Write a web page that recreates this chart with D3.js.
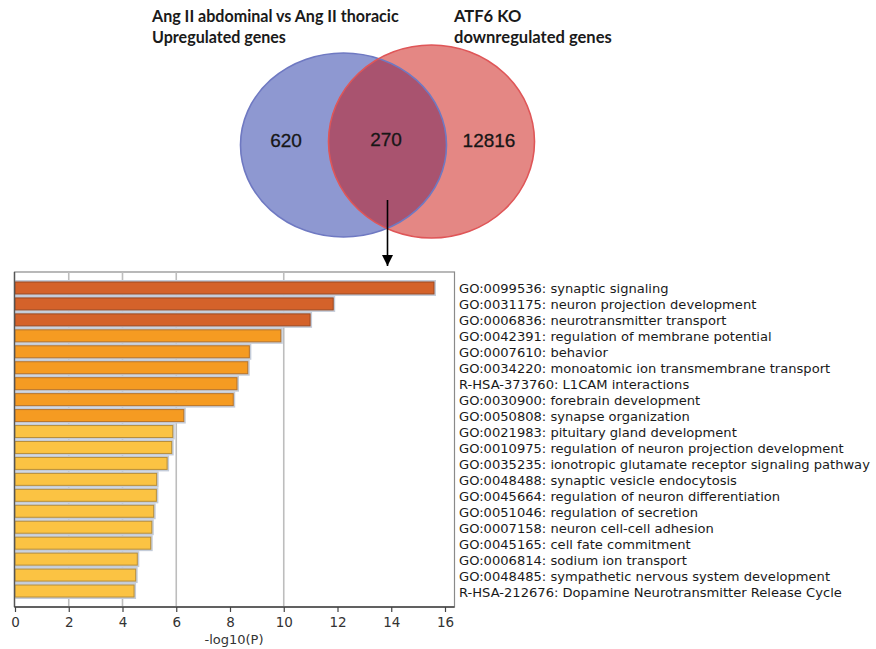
<!DOCTYPE html>
<html>
<head>
<meta charset="utf-8">
<script src="https://cdn.jsdelivr.net/npm/d3@7"></script>
<style>
  html, body { margin: 0; padding: 0; background: #fff; }
  svg { display: block; }
</style>
</head>
<body>
<svg id="chart" width="876" height="649"></svg>
<script>
// Venn set sizes
const vennLeftOnly = 620;
const vennShared = 270;
const vennRightOnly = 12816;
const vennLeftTitle = ["Ang II abdominal vs Ang II thoracic", "Upregulated genes"];
const vennRightTitle = ["ATF6 KO", "downregulated genes"];

// Enrichment terms for the shared genes
const terms = [
  "GO:0099536: synaptic signaling",
  "GO:0031175: neuron projection development",
  "GO:0006836: neurotransmitter transport",
  "GO:0042391: regulation of membrane potential",
  "GO:0007610: behavior",
  "GO:0034220: monoatomic ion transmembrane transport",
  "R-HSA-373760: L1CAM interactions",
  "GO:0030900: forebrain development",
  "GO:0050808: synapse organization",
  "GO:0021983: pituitary gland development",
  "GO:0010975: regulation of neuron projection development",
  "GO:0035235: ionotropic glutamate receptor signaling pathway",
  "GO:0048488: synaptic vesicle endocytosis",
  "GO:0045664: regulation of neuron differentiation",
  "GO:0051046: regulation of secretion",
  "GO:0007158: neuron cell-cell adhesion",
  "GO:0045165: cell fate commitment",
  "GO:0006814: sodium ion transport",
  "GO:0048485: sympathetic nervous system development",
  "R-HSA-212676: Dopamine Neurotransmitter Release Cycle"
];
const logP = [15.59, 11.84, 10.98, 9.89, 8.72, 8.66, 8.26, 8.12, 6.28, 5.87,
              5.83, 5.66, 5.27, 5.26, 5.16, 5.09, 5.05, 4.55, 4.49, 4.43];
const xTicks = [0, 2, 4, 6, 8, 10, 12, 14, 16];
const gridTicks = [2, 4, 6, 10];
const xLabel = "-log10(P)";

const svg = d3.select("#chart");

// fit a group of text lines so that one reference line spans a given width
function fitWidth(sel, baseSize, refNode, width) {
  const w = refNode.getComputedTextLength();
  if (w > 0) sel.attr("font-size", baseSize * width / w);
}

// ---------- Venn diagram ----------
const venn = svg.append("g");
const blue = { cx: 343.5, cy: 145, rx: 103, ry: 92 };
const red = { cx: 431.5, cy: 141.5, rx: 103, ry: 96.5 };

const defs = svg.append("defs");
defs.append("clipPath").attr("id", "clipBlue")
  .append("ellipse")
  .attr("cx", blue.cx).attr("cy", blue.cy).attr("rx", blue.rx).attr("ry", blue.ry);

venn.append("ellipse")
  .attr("cx", blue.cx).attr("cy", blue.cy).attr("rx", blue.rx).attr("ry", blue.ry)
  .attr("fill", "#8e98d1");
venn.append("ellipse")
  .attr("cx", red.cx).attr("cy", red.cy).attr("rx", red.rx).attr("ry", red.ry)
  .attr("fill", "#e48784");
venn.append("ellipse")
  .attr("clip-path", "url(#clipBlue)")
  .attr("cx", red.cx).attr("cy", red.cy).attr("rx", red.rx).attr("ry", red.ry)
  .attr("fill", "#a9536f");
venn.append("ellipse")
  .attr("cx", blue.cx).attr("cy", blue.cy).attr("rx", blue.rx).attr("ry", blue.ry)
  .attr("fill", "none").attr("stroke", "#6f79c2").attr("stroke-width", 1.6);
venn.append("ellipse")
  .attr("cx", red.cx).attr("cy", red.cy).attr("rx", red.rx).attr("ry", red.ry)
  .attr("fill", "none").attr("stroke", "#df5658").attr("stroke-width", 1.6);

const countStyle = sel => sel
  .attr("font-family", "Liberation Sans, Arial, sans-serif")
  .attr("font-size", 19).attr("fill", "#161616")
  .attr("stroke", "#161616").attr("stroke-width", 0.3)
  .attr("text-anchor", "middle").attr("dominant-baseline", "central");
venn.append("text").attr("x", 286).attr("y", 140).text(vennLeftOnly).call(countStyle);
venn.append("text").attr("x", 386).attr("y", 139).text(vennShared).call(countStyle);
venn.append("text").attr("x", 489).attr("y", 140).text(vennRightOnly).call(countStyle);

const titleStyle = sel => sel
  .attr("font-family", "Lato, 'Open Sans', sans-serif")
  .attr("font-weight", "bold").attr("font-size", 16).attr("fill", "#1a1a1a");
const leftTitle = venn.append("g");
vennLeftTitle.forEach((t, i) => {
  leftTitle.append("text").attr("x", 152).attr("y", 22 + i * 21).text(t).call(titleStyle);
});
fitWidth(leftTitle.selectAll("text"), 16, leftTitle.select("text").node(), 247);
const rightTitle = venn.append("g");
vennRightTitle.forEach((t, i) => {
  rightTitle.append("text").attr("x", 454).attr("y", 22 + i * 21).text(t).call(titleStyle);
});
fitWidth(rightTitle.selectAll("text"), 16, rightTitle.selectAll("text").nodes()[1], 158);

// arrow from the shared region down to the enrichment chart
defs.append("marker").attr("id", "arrowHead")
  .attr("viewBox", "0 0 10 10").attr("refX", 10).attr("refY", 5)
  .attr("markerWidth", 11).attr("markerHeight", 11)
  .attr("markerUnits", "userSpaceOnUse").attr("orient", "auto")
  .append("path").attr("d", "M0,0 L10,5 L0,10 Z").attr("fill", "#000");
svg.append("line")
  .attr("x1", 387.5).attr("y1", 200).attr("x2", 387.5).attr("y2", 266)
  .attr("stroke", "#000").attr("stroke-width", 1.6)
  .attr("marker-end", "url(#arrowHead)");

// ---------- Enrichment bar chart ----------
const plot = { left: 14.5, right: 454.5, top: 272, bottom: 607 };
const x = d3.scaleLinear().domain([0, 16]).range([15, 445]);
const y = d3.scaleBand().domain(terms).range([280, 599])
  .paddingInner(0.25).paddingOuter(0.125);

// frame
svg.append("rect")
  .attr("x", plot.left).attr("y", plot.top)
  .attr("width", plot.right - plot.left).attr("height", plot.bottom - plot.top)
  .attr("fill", "#fff").attr("stroke", "#8a8a8a").attr("stroke-width", 1.2);

// gridlines
svg.append("g").selectAll("line").data(gridTicks).join("line")
  .attr("x1", d => x(d)).attr("x2", d => x(d))
  .attr("y1", plot.top).attr("y2", plot.bottom)
  .attr("stroke", "#bdbdbd").attr("stroke-width", 1.6);

function barColor(i) {
  if (i < 3) return "#d4622a";
  if (i < 9) return "#f59b22";
  return "#fbc343";
}
function barEdge(i) {
  if (i < 3) return "#9c4a22";
  if (i < 9) return "#b8742a";
  return "#b88f3a";
}

const rows = terms.map((t, i) => ({ term: t, v: logP[i], i }));

// soft blue-grey halo behind each bar
svg.append("g").selectAll("rect").data(rows).join("rect")
  .attr("x", x(0)).attr("y", d => y(d.term) - 2)
  .attr("width", d => x(d.v) - x(0) + 2).attr("height", y.bandwidth() + 4)
  .attr("fill", "#c4ccd9");

svg.append("g").selectAll("rect").data(rows).join("rect")
  .attr("x", x(0)).attr("y", d => y(d.term))
  .attr("width", d => x(d.v) - x(0)).attr("height", y.bandwidth())
  .attr("fill", d => barColor(d.i))
  .attr("stroke", d => barEdge(d.i)).attr("stroke-width", 1);

// left and bottom axis lines
svg.append("line")
  .attr("x1", plot.left).attr("x2", plot.left).attr("y1", plot.top).attr("y2", plot.bottom)
  .attr("stroke", "#555").attr("stroke-width", 1.4);

const xAxis = d3.axisBottom(x).tickValues(xTicks).tickSize(5).tickPadding(5)
  .tickFormat(d3.format("d"));
const axisG = svg.append("g").attr("transform", `translate(0,${plot.bottom})`).call(xAxis);
axisG.select(".domain").attr("d", `M${plot.left},0H${plot.right}`)
  .attr("stroke", "#444").attr("stroke-width", 1.4);
axisG.selectAll(".tick line").attr("stroke", "#444").attr("stroke-width", 1.2);
axisG.selectAll(".tick text")
  .attr("font-family", "DejaVu Sans, sans-serif").attr("font-size", 13.5).attr("fill", "#333");

svg.append("text")
  .attr("x", 234).attr("y", 644)
  .attr("text-anchor", "middle")
  .attr("font-family", "DejaVu Sans, sans-serif").attr("font-size", 13).attr("fill", "#333")
  .text(xLabel);

// term labels to the right of the frame
const labelG = svg.append("g");
labelG.selectAll("text").data(rows).join("text")
  .attr("x", 459).attr("y", d => y(d.term) + y.bandwidth() / 2 + 1)
  .attr("dominant-baseline", "central")
  .attr("font-family", "DejaVu Sans, sans-serif").attr("font-size", 12).attr("fill", "#1a1a1a")
  .text(d => d.term);

// size the labels so the longest one spans the available width
let widest = 0;
labelG.selectAll("text").each(function () { widest = Math.max(widest, this.getComputedTextLength()); });
if (widest > 0) labelG.selectAll("text").attr("font-size", 12 * 411 / widest);
</script>
</body>
</html>
